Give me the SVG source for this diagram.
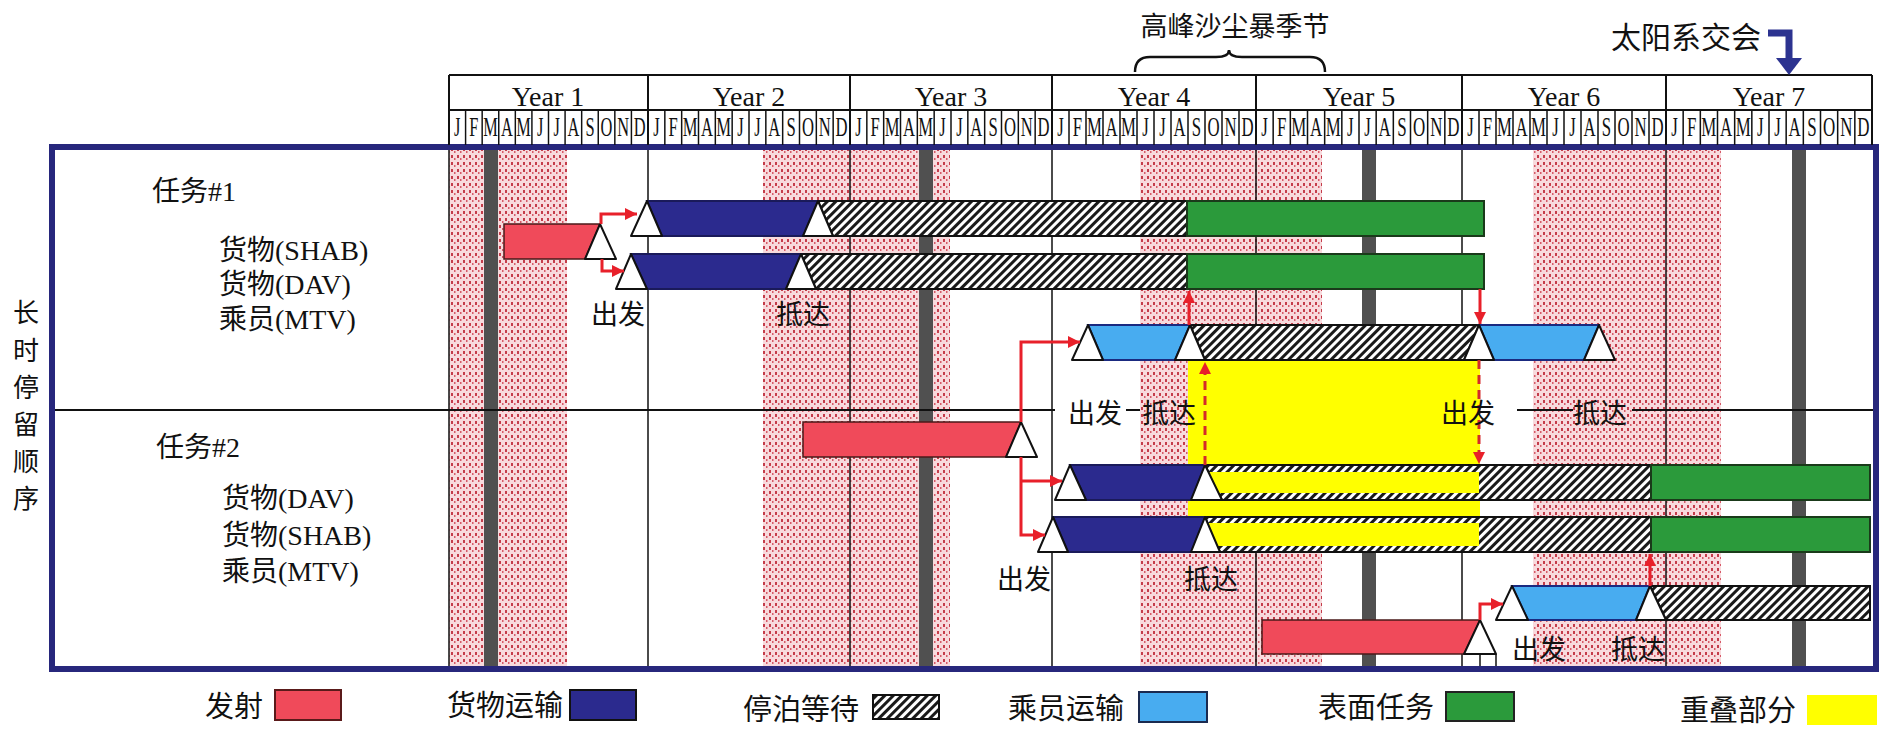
<svg xmlns="http://www.w3.org/2000/svg" xmlns:xlink="http://www.w3.org/1999/xlink" width="1894" height="730" viewBox="0 0 1894 730">
<style>
.cjk{font-family:"Noto Sans CJK SC","Noto Sans",sans-serif;fill:#111}
.lbl{font-family:"Liberation Serif","Noto Sans CJK SC",serif;font-size:28px;fill:#111}
.yr{font-family:"Liberation Serif",serif;font-size:28px;text-anchor:middle;fill:#111}
.mo{font-family:"Liberation Serif",serif;font-size:28px;text-anchor:middle;fill:#111}
.note{font-size:27px}
.leg{font-size:29px}
.tri{fill:#fff;stroke:#111;stroke-width:2;stroke-linejoin:round}
.cargo{fill:#2b2a8e;stroke:#1a1a5a;stroke-width:2}
.crew{fill:#48acf0;stroke:#1a2a80;stroke-width:2}
.launch{fill:#f04a5a;stroke:#4a1a1a;stroke-width:1.5}
.wait{fill:url(#hatch);stroke:#111;stroke-width:2}
.surf{fill:#2b9a3b;stroke:#1a3a1a;stroke-width:2}
.ovl{fill:#ffff00}
.dust{fill:url(#dust)}
.conj{fill:#505050}
.grid{fill:none;stroke:#111;stroke-width:1.5}
.conn{fill:none;stroke:#e8202a;stroke-width:3;marker-end:url(#ah)}
.dash{stroke-dasharray:9 6;stroke:#d42a2a}
</style>
<defs>
<pattern id="hatch" width="6" height="6" patternUnits="userSpaceOnUse" patternTransform="rotate(45)">
<rect width="6" height="6" fill="#fff"/><rect width="3" height="6" fill="#1a1a1a"/>
</pattern>
<pattern id="dust" width="6" height="7" patternUnits="userSpaceOnUse">
<rect width="6" height="7" fill="#f8dadd"/><rect x="1" y="1" width="2" height="3" fill="#c43c4a"/><rect x="4" y="4" width="1.5" height="2" fill="#d65a68"/>
</pattern>
<marker id="ah" viewBox="0 0 10 10" refX="10" refY="5" markerWidth="14" markerHeight="12" markerUnits="userSpaceOnUse" orient="auto">
<path d="M0,0 L10,5 L0,10 z" fill="#e8202a"/>
</marker>
<g id="months">
<path d="M17,110V145M34,110V145M51,110V145M68,110V145M85,110V145M102,110V145M119,110V145M136,110V145M153,110V145M170,110V145M187,110V145" fill="none" stroke="#111" stroke-width="1.5"/>
<g transform="scale(0.6,1)" class="mo">
<text x="14.17" y="136">J</text><text x="42.5" y="136">F</text><text x="70.83" y="136">M</text><text x="99.17" y="136">A</text><text x="127.5" y="136">M</text><text x="155.83" y="136">J</text><text x="184.17" y="136">J</text><text x="212.5" y="136">A</text><text x="240.83" y="136">S</text><text x="269.17" y="136">O</text><text x="297.5" y="136">N</text><text x="325.83" y="136">D</text>
</g>
</g>
</defs>
<rect width="1894" height="730" fill="#fff"/>

<g id="background">
<rect class="dust" x="449" y="150" width="118" height="517"/>
<rect class="dust" x="763" y="150" width="187" height="517"/>
<rect class="dust" x="1140" y="150" width="182" height="517"/>
<rect class="dust" x="1533" y="150" width="188" height="517"/>
<rect class="conj" x="484" y="150" width="14" height="517"/>
<rect class="conj" x="919" y="150" width="14" height="517"/>
<rect class="conj" x="1362" y="150" width="14" height="517"/>
<rect class="conj" x="1792" y="150" width="14" height="517"/>
<path class="grid" d="M449,150V667M648,150V667M850,150V667M1052,150V667M1256,150V667M1462,150V667M1666,150V667"/>
<path d="M55,410H1055M1126,410H1140M1198,410H1419M1517,410H1573M1632,410H1873" fill="none" stroke="#111" stroke-width="2"/>
</g>

<g id="overlap">
<rect class="ovl" x="1188" y="360" width="292" height="192"/>
</g>

<g id="launch-m1">
<polygon class="launch" points="504,224 600,224 585,259 504,259"/>
<polygon class="tri" points="585,259 600,224 616,259"/>
</g>
<g id="m1-shab">
<polygon class="wait" points="818,201 1187,201 1187,236 833,236"/>
<rect class="surf" x="1187" y="201" width="297" height="35"/>
<polygon class="cargo" points="647,201 818,201 803,236 662,236"/>
<polygon class="tri" points="631,236 647,201 662,236"/>
<polygon class="tri" points="803,236 818,201 833,236"/>
</g>
<g id="m1-dav">
<polygon class="wait" points="801,254 1187,254 1187,289 816,289"/>
<rect class="surf" x="1187" y="254" width="297" height="35"/>
<polygon class="cargo" points="631,254 801,254 786,289 647,289"/>
<polygon class="tri" points="616,289 631,254 647,289"/>
<polygon class="tri" points="786,289 801,254 816,289"/>
</g>
<g id="m1-mtv">
<polygon class="wait" points="1190,325 1479,325 1464,360 1205,360"/>
<polygon class="crew" points="1088,325 1190,325 1175,360 1103,360"/>
<polygon class="crew" points="1479,325 1599,325 1584,360 1494,360"/>
<polygon class="tri" points="1072,360 1088,325 1103,360"/>
<polygon class="tri" points="1175,360 1190,325 1205,360"/>
<polygon class="tri" points="1464,360 1479,325 1494,360"/>
<polygon class="tri" points="1584,360 1599,325 1615,360"/>
</g>

<g id="launch-m2">
<polygon class="launch" points="803,422 1021,422 1006,457 803,457"/>
<polygon class="tri" points="1006,457 1021,422 1037,457"/>
</g>
<g id="m2-dav">
<polygon class="wait" points="1205,465 1651,465 1651,500 1222,500"/>
<polygon class="ovl" points="1208,472 1479,472 1479,493 1217,493"/>
<rect class="surf" x="1651" y="465" width="219" height="35"/>
<polygon class="cargo" points="1070,465 1205,465 1191,500 1086,500"/>
<polygon class="tri" points="1055,500 1070,465 1086,500"/>
<polygon class="tri" points="1191,500 1205,465 1222,500"/>
</g>
<g id="m2-shab">
<polygon class="wait" points="1205,517 1651,517 1651,552 1220,552"/>
<polygon class="ovl" points="1208,523 1479,523 1479,546 1215,546"/>
<rect class="surf" x="1651" y="517" width="219" height="35"/>
<polygon class="cargo" points="1053,517 1205,517 1191,552 1068,552"/>
<polygon class="tri" points="1038,552 1053,517 1068,552"/>
<polygon class="tri" points="1191,552 1205,517 1220,552"/>
</g>
<g id="m2-mtv">
<polygon class="wait" points="1650,586 1870,586 1870,620 1666,620"/>
<polygon class="crew" points="1512,586 1650,586 1636,620 1528,620"/>
<polygon class="tri" points="1496,620 1512,586 1528,620"/>
<polygon class="tri" points="1636,620 1650,586 1666,620"/>
</g>
<g id="launch-m2-crew">
<polygon class="launch" points="1262,620 1480,620 1464,654 1262,654"/>
<polygon class="tri" points="1464,654 1480,620 1496,654"/>
<path d="M1480,654V667M1496,654V667" fill="none" stroke="#111" stroke-width="1.5"/>
</g>

<g id="connectors">
<path class="conn" d="M601,224V214H637"/>
<path class="conn" d="M602,259V271H624"/>
<path class="conn" d="M1189,325V291"/>
<path class="conn" d="M1480,289V324"/>
<path class="conn" d="M1021,422V342H1080"/>
<path class="conn" d="M1021,457V535H1045"/>
<path class="conn" d="M1021,481H1062"/>
<path class="conn dash" d="M1205,465V362"/>
<path class="conn dash" d="M1479,360V464"/>
<path class="conn" d="M1480,620V604H1503"/>
<path class="conn" d="M1650,586V554"/>
</g>

<g id="labels">
<g class="cjk" font-size="26" text-anchor="middle">
<text x="26" y="322">长</text><text x="26" y="360">时</text><text x="26" y="397">停</text><text x="26" y="434">留</text><text x="26" y="471">顺</text><text x="26" y="508">序</text>
</g>
<text class="lbl" x="152" y="201">任务#1</text>
<text class="lbl" x="219" y="260">货物(SHAB)</text>
<text class="lbl" x="219" y="294">货物(DAV)</text>
<text class="lbl" x="219" y="329">乘员(MTV)</text>
<text class="lbl" x="156" y="457">任务#2</text>
<text class="lbl" x="222" y="508">货物(DAV)</text>
<text class="lbl" x="222" y="545">货物(SHAB)</text>
<text class="lbl" x="222" y="581">乘员(MTV)</text>
<g class="cjk note">
<text x="591" y="324">出发</text>
<text x="776" y="324">抵达</text>
<text x="1068" y="423">出发</text>
<text x="1142" y="423">抵达</text>
<text x="1441" y="423">出发</text>
<text x="1573" y="423">抵达</text>
<text x="997" y="589">出发</text>
<text x="1184" y="589">抵达</text>
<text x="1512" y="659">出发</text>
<text x="1611" y="659">抵达</text>
</g>
</g>

<g id="frame">
<rect x="52" y="147" width="1824" height="522" fill="none" stroke="#27277c" stroke-width="6"/>
</g>

<g id="header">
<path d="M449,75H1872M449,110H1872M449,75V145M648,75V145M850,75V145M1052,75V145M1256,75V145M1462,75V145M1666,75V145M1872,75V145" fill="none" stroke="#111" stroke-width="2"/>
<use xlink:href="#months" transform="translate(449,0) scale(0.9755,1)"/>
<use xlink:href="#months" transform="translate(648,0) scale(0.9902,1)"/>
<use xlink:href="#months" transform="translate(850,0) scale(0.9902,1)"/>
<use xlink:href="#months" transform="translate(1052,0)"/>
<use xlink:href="#months" transform="translate(1256,0) scale(1.0098,1)"/>
<use xlink:href="#months" transform="translate(1462,0)"/>
<use xlink:href="#months" transform="translate(1666,0) scale(1.0098,1)"/>
<text class="yr" x="548" y="106">Year 1</text>
<text class="yr" x="749" y="106">Year 2</text>
<text class="yr" x="951" y="106">Year 3</text>
<text class="yr" x="1154" y="106">Year 4</text>
<text class="yr" x="1359" y="106">Year 5</text>
<text class="yr" x="1564" y="106">Year 6</text>
<text class="yr" x="1769" y="106">Year 7</text>
</g>

<g id="dust-season">
<text class="cjk" x="1235" y="36" font-size="27" text-anchor="middle">高峰沙尘暴季节</text>
<path d="M1135,72Q1135,57 1150,57L1216,57Q1229,57 1229,50Q1229,57 1242,57L1310,57Q1325,57 1325,72" fill="none" stroke="#111" stroke-width="2.5"/>
</g>
<g id="conjunction">
<text class="cjk" x="1611" y="48" font-size="30">太阳系交会</text>
<path d="M1768,33H1789V60" fill="none" stroke="#2c3390" stroke-width="7"/>
<polygon points="1776,58 1802,58 1789,75" fill="#2c3390"/>
</g>

<g id="legend">
<text class="cjk leg" x="205" y="717">发射</text>
<rect x="275" y="690" width="66" height="30" fill="#f04a5a" stroke="#5a1a1a" stroke-width="2"/>
<text class="cjk leg" x="447" y="716">货物运输</text>
<rect x="570" y="690" width="66" height="30" fill="#2b2a8e" stroke="#111" stroke-width="2"/>
<text class="cjk leg" x="743" y="720">停泊等待</text>
<rect x="873" y="695" width="66" height="24" fill="url(#hatch)" stroke="#111" stroke-width="2"/>
<text class="cjk leg" x="1008" y="719">乘员运输</text>
<rect x="1139" y="692" width="68" height="30" fill="#48acf0" stroke="#1a2a50" stroke-width="2"/>
<text class="cjk leg" x="1318" y="718">表面任务</text>
<rect x="1446" y="692" width="68" height="29" fill="#2b9a3b" stroke="#222" stroke-width="2"/>
<text class="cjk leg" x="1680" y="721" font-size="28">重叠部分</text>
<rect x="1807" y="695" width="70" height="30" fill="#ffff00"/>
</g>
</svg>
